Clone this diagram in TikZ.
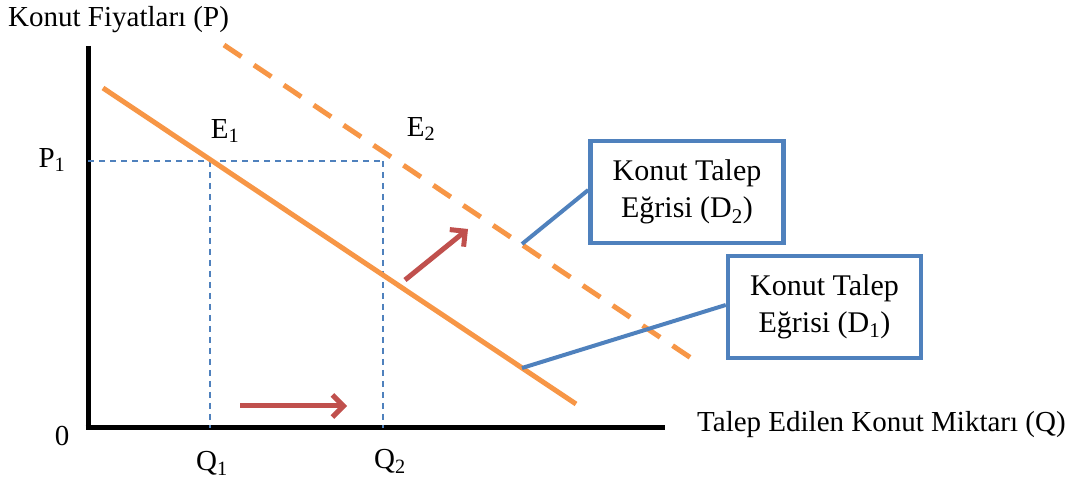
\documentclass[tikz,border=0pt]{standalone}
\usepackage{fontspec}
\setmainfont{Liberation Serif}
\usetikzlibrary{arrows.meta}
\definecolor{dorange}{HTML}{F79646}
\definecolor{dblue}{HTML}{4F81BD}
\definecolor{dred}{HTML}{C0504D}
\begin{document}
\begin{tikzpicture}[x=1pt,y=-1pt,
  lbl/.style={font=\fontsize{29}{32}\selectfont, inner sep=0pt},
  boxtxt/.style={draw=dblue, line width=4.5pt, minimum width=193pt, minimum height=102pt, align=center, font=\fontsize{30}{37}\selectfont},
  axis/.style={line width=5pt, black},
  curve/.style={dorange, line width=5pt},
  guide/.style={dblue, line width=1.5pt, dash pattern=on 6pt off 5pt},
  conn/.style={dblue, line width=4pt},
  shiftarrow/.style={dred, line width=5pt, -{Straight Barb[length=11pt,width=22pt]}}
]
\useasboundingbox (0,0) rectangle (1080,478);
% axes
\coordinate (ytop) at (88,46);
\coordinate (orig) at (88,428);
\coordinate (xend) at (665,428);
\draw[axis] (ytop) -- (88,430.5);
\draw[axis] (85.5,428) -- (xend);
% guides
\coordinate (p1) at (88,161);
\coordinate (e1) at (210,161);
\coordinate (e2) at (383,161);
\coordinate (q1) at (210,428);
\coordinate (q2) at (383,428);
\draw[guide] (p1) -- (e2);
\draw[guide] (e1) -- (q1);
\draw[guide] (e2) -- (q2);
% demand curves
\coordinate (d1a) at (103,88);
\coordinate (d1b) at (576,404);
\coordinate (d2a) at (224,45);
\coordinate (d2b) at (697,362);
\draw[curve] (d1a) -- (d1b);
\draw[curve, dash pattern=on 21pt off 15pt] (d2a) -- (d2b);
% labels
\node[lbl, anchor=west] (ylab) at (8,20) {Konut Fiyatları (P)};
\node[lbl] (p1lab) at (52,160) {P\textsubscript{1}};
\node[lbl] (zero) at (62,436) {0};
\node[lbl] (e1lab) at (225,131) {E\textsubscript{1}};
\node[lbl] (e2lab) at (421,129) {E\textsubscript{2}};
\node[lbl] (q1lab) at (212,463) {Q\textsubscript{1}};
\node[lbl] (q2lab) at (390,461) {Q\textsubscript{2}};
\node[lbl, anchor=west] (xlab) at (697,425) {Talep Edilen Konut Miktarı (Q)};
% boxes
\node[boxtxt] (box2) at (687,192) {Konut Talep\\Eğrisi (D\textsubscript{2})};
\node[boxtxt] (box1) at (824.5,307) {Konut Talep\\Eğrisi (D\textsubscript{1})};
\coordinate (c2) at (522,244);
\coordinate (c1) at (522,368);
\draw[conn] (c2) -- (box2.west |- 0,190);
\draw[conn] (c1) -- (box1.west |- 0,305);
% shift arrows
\coordinate (a1s) at (240,406);
\coordinate (a1e) at (347,406);
\coordinate (a2s) at (405,280);
\coordinate (a2e) at (468,229);
\draw[shiftarrow] (a1s) -- (a1e);
\draw[shiftarrow] (a2s) -- (a2e);
\end{tikzpicture}
\end{document}
